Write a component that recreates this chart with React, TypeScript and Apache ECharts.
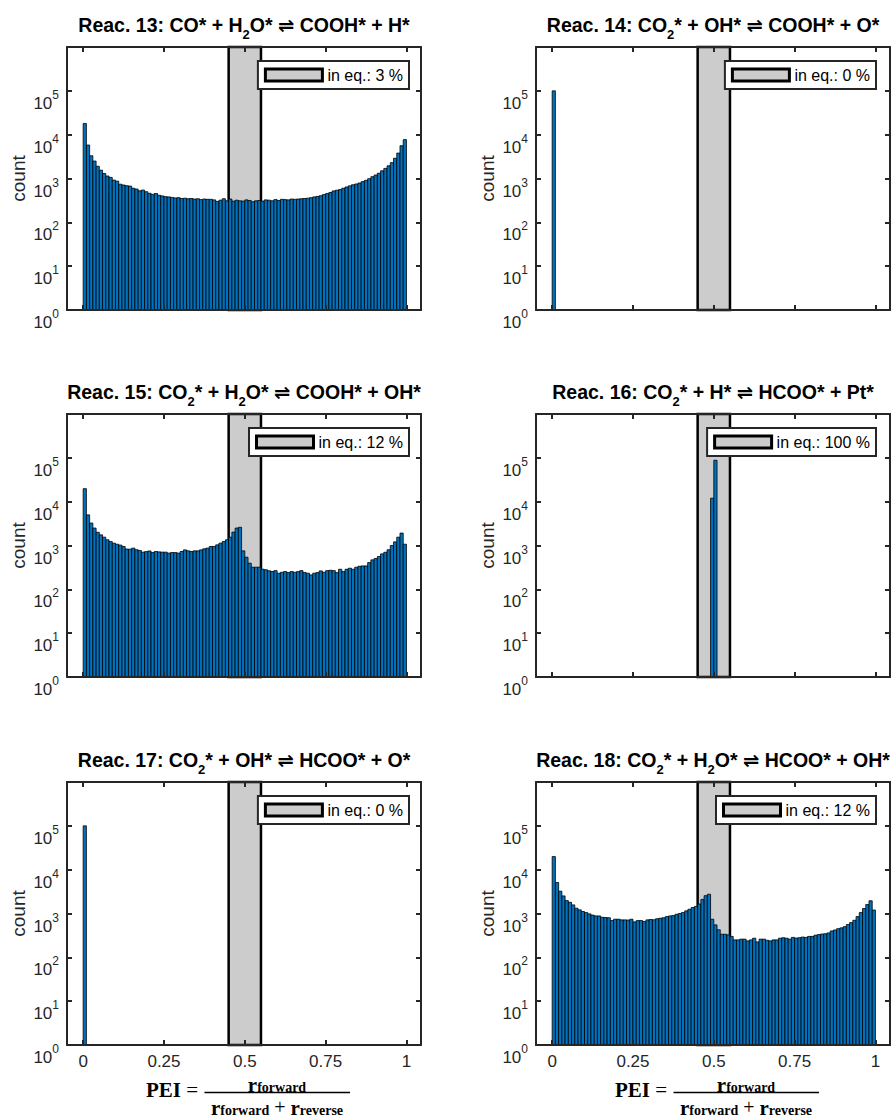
import { useEffect, useRef } from "react";
import * as echarts from "echarts";

// ---------------- data ----------------
const BIN_WIDTH = 0.01;
const X_TICKS = [0, 0.25, 0.5, 0.75, 1];
const X_TICK_LABELS = ["0", "0.25", "0.5", "0.75", "1"];
const EQ_BAND = [0.45, 0.55];
const EQ_PERCENT = [3, 0, 12, 100, 0, 12];

const TITLES = [
  "{t|Reac. 13: CO* + H}{sub|2}{t|O* \u21CC COOH* + H*}",
  "{t|Reac. 14: CO}{sub|2}{t|* + OH* \u21CC COOH* + O*}",
  "{t|Reac. 15: CO}{sub|2}{t|* + H}{sub|2}{t|O* \u21CC COOH* + OH*}",
  "{t|Reac. 16: CO}{sub|2}{t|* + H* \u21CC HCOO* + Pt*}",
  "{t|Reac. 17: CO}{sub|2}{t|* + OH* \u21CC HCOO* + O*}",
  "{t|Reac. 18: CO}{sub|2}{t|* + H}{sub|2}{t|O* \u21CC HCOO* + OH*}",
];

// 100 bins of width 0.01 on [0, 1]
const REAC13_COUNTS = [
  18000, 5800, 3300, 2500, 1900, 1550, 1300, 1140, 1060, 920,
  870, 740, 710, 685, 670, 600, 575, 525, 545, 500,
  460, 435, 455, 415, 400, 385, 380, 370, 360, 365,
  350, 355, 345, 350, 340, 345, 330, 340, 335, 335,
  325, 300, 320, 345, 310, 340, 305, 320, 310, 305,
  325, 315, 295, 310, 315, 305, 325, 320, 310, 330,
  315, 335, 330, 325, 340, 335, 340, 345, 350, 355,
  365, 380, 390, 405, 430, 455, 480, 520, 540, 560,
  600, 640, 680, 720, 750, 790, 850, 910, 990, 1100,
  1200, 1320, 1500, 1700, 1950, 2300, 2900, 3800, 5600, 7700,
];

const REAC15_COUNTS = [
  19800, 5000, 3250, 2500, 2000, 1750, 1550, 1350, 1230, 1130,
  1070, 1020, 950, 830, 825, 870, 800, 770, 705, 725,
  750, 690, 730, 715, 705, 705, 670, 690, 690, 670,
  730, 795, 755, 730, 755, 755, 795, 840, 870, 950,
  950, 1035, 1130, 1230, 1350, 1550, 2020, 2500, 2600, 755,
  540, 395, 320, 320, 320, 288, 280, 265, 255, 267,
  233, 245, 254, 241, 254, 245, 254, 267, 241, 233,
  213, 233, 241, 263, 245, 267, 272, 267, 241, 287,
  254, 287, 303, 287, 319, 336, 342, 342, 408, 470,
  504, 560, 644, 700, 800, 1000, 1210, 1550, 1920, 1070,
];

const REAC18_COUNTS = [
  19900, 5100, 3230, 2520, 1970, 1800, 1570, 1320, 1210, 1110,
  1050, 980, 920, 880, 880, 820, 810, 800, 690, 740,
  740, 715, 715, 710, 740, 645, 690, 690, 655, 715,
  730, 720, 760, 780, 800, 850, 880, 900, 960, 1000,
  1050, 1150, 1250, 1370, 1450, 1650, 2100, 2550, 2750, 740,
  550, 425, 336, 336, 325, 300, 250, 250, 260, 260,
  237, 250, 273, 225, 260, 260, 245, 237, 250, 250,
  273, 280, 273, 260, 285, 275, 280, 290, 285, 300,
  300, 320, 330, 340, 345, 360, 400, 420, 450, 470,
  500, 560, 620, 700, 850, 1050, 1300, 1600, 1950, 1200,
];

// sparse histograms: bin index -> count
const REAC14_BINS = [0];
const REAC14_COUNTS = [100000];
const REAC16_BINS = [49, 50];
const REAC16_COUNTS = [12000, 88000];
const REAC17_BINS = [0];
const REAC17_COUNTS = [100000];

// ---------------- layout / style ----------------
const FONT = "'Liberation Sans', Arial, Helvetica, 'DejaVu Sans', sans-serif";
const SERIF = "'Liberation Serif', 'Times New Roman', 'DejaVu Serif', serif";
const AXIS_COLOR = "#262626";
const BAR_COLOR = "#0072BD";
const BAND_COLOR = "#cccccc";

const GRID_LEFTS = [67, 536];
const GRID_TOPS = [47, 414, 782];
const GRID_W = 354;
const GRID_H = 263;
const X_MIN = -0.05;
const X_MAX = 1.045;
const LEGEND_RIGHTS = [891 - 409, 891 - 876];

function denseRows(counts: number[]) {
  return counts
    .map((c, i) => [i * BIN_WIDTH, (i + 1) * BIN_WIDTH, c])
    .filter((r) => r[2] > 0);
}
function sparseRows(bins: number[], counts: number[]) {
  return bins.map((b, k) => [b * BIN_WIDTH, (b + 1) * BIN_WIDTH, counts[k]]);
}

const PANEL_ROWS = [
  denseRows(REAC13_COUNTS),
  sparseRows(REAC14_BINS, REAC14_COUNTS),
  denseRows(REAC15_COUNTS),
  sparseRows(REAC16_BINS, REAC16_COUNTS),
  sparseRows(REAC17_BINS, REAC17_COUNTS),
  denseRows(REAC18_COUNTS),
];

function buildOption() {
  const grid: any[] = [];
  const xAxis: any[] = [];
  const yAxis: any[] = [];
  const series: any[] = [];
  const title: any[] = [];
  const legend: any[] = [];
  const graphicEls: any[] = [];

  const titleRich = {
    t: {
      fontFamily: FONT,
      fontWeight: "bold",
      fontSize: 19.5,
      color: "#000",
      lineHeight: 20,
      verticalAlign: "top",
    },
    sub: {
      fontFamily: FONT,
      fontWeight: "bold",
      fontSize: 13,
      color: "#000",
      lineHeight: 13,
      padding: [13, 0, 0, 0],
      verticalAlign: "top",
    },
  };

  const yLabelRich = {
    b: {
      fontFamily: FONT,
      fontSize: 17,
      color: AXIS_COLOR,
      lineHeight: 16,
      padding: [12, 0, 0, 0],
      verticalAlign: "top",
    },
    s: {
      fontFamily: FONT,
      fontSize: 12,
      color: AXIS_COLOR,
      lineHeight: 12,
      padding: [6, 0, 0, 0],
      verticalAlign: "top",
    },
  };

  const tickStyle = { color: AXIS_COLOR, width: 2 };

  for (let p = 0; p < 6; p++) {
    const col = p % 2;
    const row = Math.floor(p / 2);
    const left = GRID_LEFTS[col];
    const top = GRID_TOPS[row];
    const bottomRow = row === 2;
    grid.push({
      left,
      top,
      width: GRID_W,
      height: GRID_H,
      outerBoundsMode: "none",
      containLabel: false,
    });

    const xBase = {
      type: "value",
      gridIndex: p,
      min: X_MIN,
      max: X_MAX,
      z: 5,
      splitLine: { show: false },
      axisLine: { show: true, onZero: false, lineStyle: tickStyle },
      axisTick: {
        show: true,
        inside: true,
        length: 5,
        customValues: X_TICKS,
        lineStyle: tickStyle,
      },
    };
    xAxis.push({
      ...xBase,
      position: "bottom",
      axisLabel: {
        show: bottomRow,
        customValues: X_TICKS,
        margin: 8,
        fontFamily: FONT,
        fontSize: 17,
        lineHeight: 17,
        color: AXIS_COLOR,
        formatter: (v: number) => {
          const i = X_TICKS.indexOf(v);
          return i >= 0 ? X_TICK_LABELS[i] : "";
        },
      },
    });
    xAxis.push({
      ...xBase,
      position: "top",
      axisLabel: { show: false },
    });

    const yBase = {
      type: "log",
      logBase: 10,
      gridIndex: p,
      min: 1,
      max: 1e6,
      z: 5,
      splitLine: { show: false },
      minorTick: { show: false },
      axisLine: { show: true, onZero: false, lineStyle: tickStyle },
      axisTick: { show: true, inside: true, length: 5, lineStyle: tickStyle },
    };
    yAxis.push({
      ...yBase,
      position: "left",
      name: "count",
      nameLocation: "middle",
      nameGap: 39,
      nameTextStyle: { fontFamily: FONT, fontSize: 19, color: AXIS_COLOR },
      axisLabel: {
        show: true,
        margin: 8,
        formatter: (v: number) => {
          const e = Math.round(Math.log10(v));
          if (e > 5) return "";
          return `{b|10}{s|${e}}`;
        },
        rich: yLabelRich,
      },
    });
    yAxis.push({
      ...yBase,
      position: "right",
      axisLabel: { show: false },
    });

    const legendName = `in eq.: ${EQ_PERCENT[p]} %`;

    // equilibrium band
    series.push({
      type: "custom",
      name: legendName,
      xAxisIndex: 2 * p,
      yAxisIndex: 2 * p,
      z: 2,
      silent: true,
      data: [[EQ_BAND[0], EQ_BAND[1], 1]],
      encode: { x: [0, 1], y: 2 },
      renderItem: (params: any, api: any) => {
        const cs = params.coordSys;
        const a = api.coord([api.value(0), 1]);
        const b = api.coord([api.value(1), 1]);
        return {
          type: "rect",
          shape: { x: a[0], y: cs.y, width: b[0] - a[0], height: cs.height },
          style: { fill: BAND_COLOR, stroke: "#000", lineWidth: 2.5 },
        };
      },
    });

    // histogram
    series.push({
      type: "custom",
      name: `hist-${p}`,
      xAxisIndex: 2 * p,
      yAxisIndex: 2 * p,
      z: 3,
      silent: true,
      data: PANEL_ROWS[p],
      encode: { x: [0, 1], y: 2 },
      renderItem: (params: any, api: any) => {
        const p0 = api.coord([api.value(0), api.value(2)]);
        const p1 = api.coord([api.value(1), 1]);
        return {
          type: "rect",
          shape: {
            x: p0[0],
            y: p0[1],
            width: p1[0] - p0[0],
            height: p1[1] - p0[1],
          },
          style: { fill: BAR_COLOR, stroke: "#000", lineWidth: 0.8 },
        };
      },
    });

    title.push({
      text: TITLES[p],
      left: left + GRID_W / 2,
      top: top - 32,
      textAlign: "center",
      padding: 0,
      textStyle: { rich: titleRich },
    });

    legend.push({
      data: [{ name: legendName, icon: "rect" }],
      right: LEGEND_RIGHTS[col],
      top: top + 14,
      orient: "horizontal",
      padding: [6, 6, 6, 6],
      itemWidth: 57,
      itemHeight: 12,
      itemStyle: { color: BAND_COLOR, borderColor: "#000", borderWidth: 3 },
      textStyle: { fontFamily: FONT, fontSize: 16, color: "#000" },
      backgroundColor: "#fff",
      borderColor: AXIS_COLOR,
      borderWidth: 2,
      borderRadius: 0,
      selectedMode: false,
      z: 10,
    });

    if (bottomRow) {
      const C = left + GRID_W / 2;
      const fracRich = {
        r: {
          fontFamily: SERIF,
          fontWeight: "bold",
          fontSize: 21,
          lineHeight: 16,
          verticalAlign: "top",
          fill: "#000",
        },
        s: {
          fontFamily: SERIF,
          fontWeight: "bold",
          fontSize: 14,
          lineHeight: 12,
          padding: [6, 0, 0, 0],
          verticalAlign: "top",
          fill: "#000",
        },
        p: {
          fontFamily: SERIF,
          fontSize: 20,
          lineHeight: 16,
          verticalAlign: "top",
          fill: "#000",
        },
      };
      graphicEls.push(
        {
          type: "text",
          x: C - 46,
          y: 1090,
          style: {
            text: "{b|PEI}{e| =}",
            rich: {
              b: { fontFamily: SERIF, fontWeight: "bold", fontSize: 21, fill: "#000" },
              e: { fontFamily: SERIF, fontSize: 21, fill: "#000" },
            },
            align: "right",
            verticalAlign: "middle",
          },
        },
        {
          type: "line",
          shape: { x1: C - 39.5, y1: 1092.5, x2: C + 106, y2: 1092.5 },
          style: { stroke: "#000", lineWidth: 1.3 },
        },
        {
          type: "text",
          x: C + 33,
          y: 1082,
          style: {
            text: "{r|r}{s|forward}",
            rich: fracRich,
            align: "center",
            verticalAlign: "middle",
          },
        },
        {
          type: "text",
          x: C + 33,
          y: 1105,
          style: {
            text: "{r|r}{s|forward}{p| + }{r|r}{s|reverse}",
            rich: fracRich,
            align: "center",
            verticalAlign: "middle",
          },
        }
      );
    }
  }

  return {
    animation: false,
    backgroundColor: "#fff",
    grid,
    xAxis,
    yAxis,
    series,
    title,
    legend,
    graphic: { elements: graphicEls },
  };
}

export default function App() {
  const ref = useRef<HTMLDivElement>(null);
  useEffect(() => {
    if (!ref.current) return;
    const chart = echarts.init(ref.current, undefined, { renderer: "svg" });
    chart.setOption(buildOption() as any);
    return () => chart.dispose();
  }, []);
  return (
    <div
      ref={ref}
      style={{ position: "absolute", left: 0, top: 0, width: 891, height: 1118, background: "#fff" }}
    />
  );
}
